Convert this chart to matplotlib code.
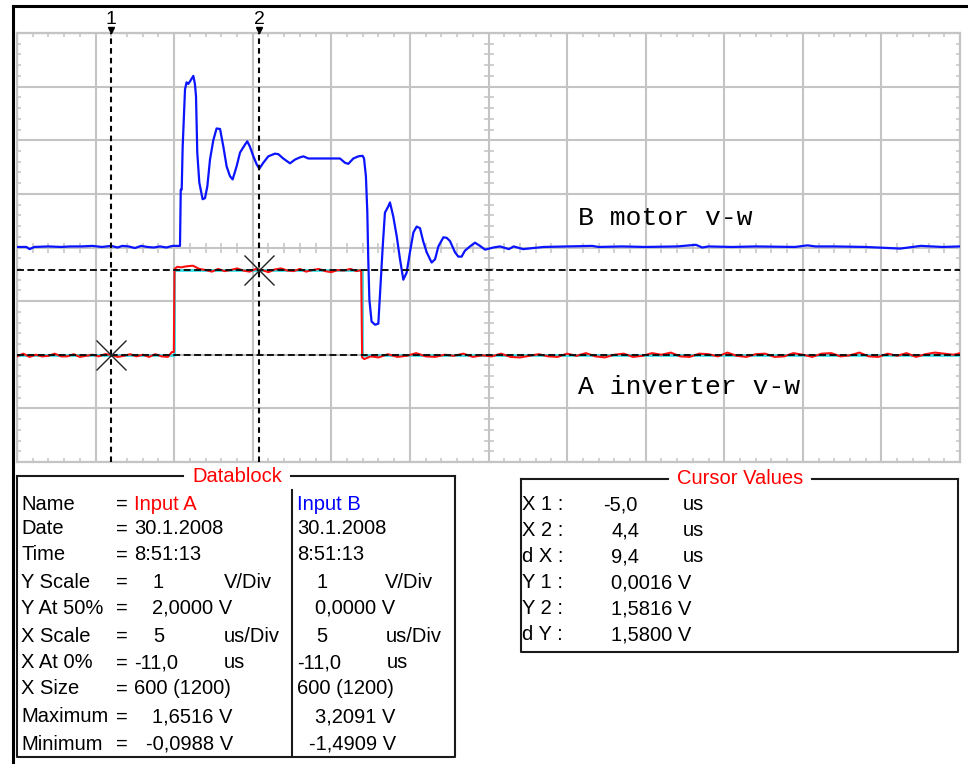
import numpy as np
import matplotlib
matplotlib.use("Agg")
import matplotlib.pyplot as plt
from matplotlib.lines import Line2D

plt.rcParams['lines.scale_dashes'] = False

# ---------------- data ----------------
# Channel B (motor v-w), volts vs time (us)
blue_t = [-11.0, -10.4, -10.2, -9.9, -9.0, -8.2, -7.6, -6.9, -6.2, -5.6, -5.0, -4.6, -4.3,
          -3.9, -3.5, -3.1, -2.7, -2.3, -1.9, -1.5, -1.1, -0.74, -0.63, -0.58, -0.52, -0.46,
          -0.31, -0.21, -0.10, 0.01, 0.22, 0.32, 0.39, 0.47, 0.60, 0.81, 0.96, 1.11, 1.28,
          1.49, 1.70, 1.92, 2.13, 2.34, 2.55, 2.72, 2.97, 3.19, 3.51, 3.65, 3.82, 4.04, 4.25,
          4.42, 4.67, 4.99, 5.41, 5.63, 5.94, 6.37, 6.69, 7.00, 7.22, 7.54, 8.49, 9.55, 9.87,
          10.08, 10.40, 10.72, 10.99, 11.08, 11.20, 11.29, 11.35, 11.42, 11.56, 11.78, 11.99,
          12.10, 12.27, 12.41, 12.63, 12.73, 12.94, 13.16, 13.37, 13.58, 13.79, 14.00, 14.22,
          14.43, 14.64, 14.85, 15.07, 15.38, 15.60, 15.81, 16.13, 16.34, 16.55, 16.87, 17.08,
          17.29, 17.50, 17.82, 18.14, 18.46, 18.78, 19.31, 19.73, 20.3, 20.6, 21.2, 22.5,
          24.0, 25.6, 26.0, 27.5, 29.0, 31.0, 32.2, 32.6, 33.0, 34.5, 36.0, 38.5, 39.3,
          39.8, 41.0, 43.0, 45.2, 46.5, 47.9, 49.0]
blue_v = [0.01, 0.01, -0.03, 0.01, 0.02, 0.01, 0.02, 0.02, 0.03, 0.01, 0.03, 0.0, 0.03,
          0.02, -0.01, 0.03, 0.01, 0.0, 0.02, 0.0, 0.03, 0.03, 0.03, 1.08, 1.08, 1.87,
          2.95, 3.08, 3.05, 3.10, 3.20, 3.05, 2.82, 1.77, 1.21, 0.90, 0.92, 1.14, 1.64,
          2.00, 2.22, 2.21, 1.88, 1.51, 1.33, 1.27, 1.51, 1.77, 1.92, 1.98, 1.88, 1.70, 1.55,
          1.47, 1.58, 1.70, 1.75, 1.74, 1.66, 1.57, 1.64, 1.68, 1.70, 1.66, 1.66, 1.66, 1.58,
          1.56, 1.66, 1.70, 1.71, 1.66, 1.33, 0.65, -0.22, -0.97, -1.38, -1.44, -1.42,
          -0.84, 0.02, 0.65, 0.77, 0.84, 0.58, 0.21, -0.22, -0.60, -0.47, -0.09, 0.28,
          0.39, 0.36, 0.11, -0.09, -0.28, -0.22, 0.02, 0.19, 0.18, 0.12, -0.09, -0.17,
          -0.17, -0.06, 0.02, 0.09, 0.03, -0.04, 0.0, 0.02, -0.03, 0.02, -0.03, 0.01,
          0.02, 0.03, 0.01, 0.02, 0.01, 0.02, 0.05, 0.0, 0.02, 0.01, 0.02, 0.01, 0.04,
          0.02, 0.02, 0.01, -0.02, 0.03, 0.01, 0.02]

# Channel A (inverter v-w), volts vs time (us)
red_t = [-11.0, -10.6, -10.2, -9.8, -9.4, -9.0, -8.6, -8.2, -7.8, -7.4, -7.0, -6.6, -6.2,
         -5.8, -5.4, -5.0, -4.6, -4.2, -3.8, -3.4, -3.0, -2.6, -2.2, -1.8, -1.4, -1.15,
         -1.02, -0.98, -0.80, -0.55, -0.2, 0.2, 0.6, 1.0, 1.4, 1.8, 2.2, 2.6, 3.0, 3.4,
         3.8, 4.2, 4.6, 5.0, 5.4, 5.8, 6.2, 6.6, 7.0, 7.4, 7.8, 8.2, 8.6, 9.0, 9.4, 9.8,
         10.2, 10.6, 10.90, 10.96, 11.1, 11.5, 12.0, 12.6, 13.2, 13.8, 14.4, 15.0, 15.6,
         16.2, 16.8, 17.4, 18.0, 18.6, 19.2, 19.8, 20.4, 21.0, 21.6, 22.2, 22.8, 23.4,
         24.0, 24.6, 25.2, 25.8, 26.4, 27.0, 27.6, 28.2, 28.8, 29.4, 30.0, 30.6, 31.2,
         31.8, 32.4, 33.0, 33.6, 34.2, 34.8, 35.4, 36.0, 36.6, 37.2, 37.8, 38.4, 39.0,
         39.6, 40.2, 40.8, 41.4, 42.0, 42.6, 43.2, 43.8, 44.4, 45.0, 45.6, 46.2, 46.8,
         47.4, 48.0, 48.6, 49.0]
red_v = [-0.03, 0.02, -0.04, 0.0, -0.03, -0.02, 0.02, -0.03, -0.03, 0.01, -0.04, -0.02,
         0.0, -0.03, 0.01, 0.0, -0.04, -0.02, 0.01, -0.03, 0.0, -0.04, 0.01, -0.03, -0.04,
         0.05, 0.05, 1.60, 1.64, 1.63, 1.65, 1.66, 1.60, 1.58, 1.55, 1.60, 1.56, 1.58,
         1.61, 1.57, 1.55, 1.60, 1.58, 1.54, 1.59, 1.61, 1.57, 1.56, 1.60, 1.55, 1.58,
         1.60, 1.56, 1.54, 1.58, 1.57, 1.60, 1.56, 1.58, -0.05, -0.08, -0.03, -0.05,
         0.01, -0.04, -0.02, 0.03, -0.03, -0.04, 0.0, -0.02, 0.02, -0.04, -0.01, -0.03,
         0.02, -0.04, -0.05, -0.02, 0.01, -0.03, -0.04, 0.02, -0.02, 0.03, -0.03, -0.05,
         0.0, 0.02, -0.04, -0.02, 0.03, 0.0, 0.04, -0.03, -0.04, 0.02, 0.01, -0.03,
         0.04, -0.02, -0.04, 0.01, 0.02, -0.04, -0.03, 0.03, 0.0, -0.04, 0.02, 0.03,
         -0.03, -0.01, 0.04, -0.03, -0.04, 0.02, -0.02, 0.03, -0.04, 0.01, 0.04, 0.02,
         0.0, 0.03]

# Reference (cyan) trace of channel A
ref_t = [-11.0, -1.0, -1.0, 10.93, 10.93, 49.0]
ref_v = [0.0, 0.0, 1.58, 1.58, 0.0, 0.0]

y_at_50 = {'A': 2.0, 'B': 0.0}     # V at screen centre
x_at_0 = -11.0                     # us at left edge
x_scale = 5                        # us/div
y_scale = 1                        # V/div
cursor_x = [-5.0, 4.4]
cursor_yA = [0.0016, 1.5816]
cursor_names = ['1', '2']

trace_labels = ['B motor v-w', 'A inverter v-w']

db_rows = ['Name', 'Date', 'Time', 'Y Scale', 'Y At 50%', 'X Scale', 'X At 0%', 'X Size',
           'Maximum', 'Minimum']
cv_labels = ['X 1 :', 'X 2 :', 'd X :', 'Y 1 :', 'Y 2 :', 'd Y :']
cv_values = ['-5,0', '4,4', '9,4', '0,0016 V', '1,5816 V', '1,5800 V']
cv_units = ['us', 'us', 'us', '', '', '']

# ---------------- figure ----------------
W, H = 968, 764
def fx(x): return x / W
def fy(y): return 1 - y / H

fig = plt.figure(figsize=(W / 100, H / 100), dpi=100)
fig.patch.set_facecolor('white')
ax = fig.add_axes([fx(17), fy(462), 943 / W, 429 / H])
ax.set_facecolor('white')

x_min, x_max = x_at_0, x_at_0 + 12 * x_scale
ax.set_xlim(x_min, x_max)
ax.set_ylim(-4 * y_scale, 4 * y_scale)
gcol = '#c4c4c4'
ax.set_xticks(np.arange(x_min, x_max + 0.1, x_scale))
ax.set_yticks(np.arange(-4, 4.1, 1))
ax.set_xticks(np.arange(x_min, x_max + 0.01, 1), minor=True)
ax.set_yticks(np.arange(-4, 4.01, 0.2), minor=True)
ax.grid(True, which='major', color=gcol, lw=1.5)
ax.tick_params(which='major', length=0, labelbottom=False, labelleft=False)
ax.tick_params(which='minor', direction='in', length=3, width=1.1, color=gcol,
               top=True, right=True, bottom=True, left=True)
for s in ax.spines.values():
    s.set_color(gcol)
    s.set_linewidth(1.6)

# ticks on centre lines
xc = (x_min + x_max) / 2
mx = np.arange(x_min, x_max + 0.01, 1)
my = np.arange(-4, 4.01, 0.2)
ax.plot(mx, np.zeros_like(mx), ls='none', marker='|', ms=7, mew=1.1, color=gcol, zorder=1)
ax.plot(np.full_like(my, xc), my, ls='none', marker='_', ms=7, mew=1.1, color=gcol, zorder=1)

# traces
ax.plot(ref_t, np.array(ref_v) - y_at_50['A'], color='#33e0e8', lw=2.0, zorder=3)
ax.plot(red_t, np.array(red_v) - y_at_50['A'], color='#ff1010', lw=1.5, zorder=4)
ax.plot(blue_t, np.array(blue_v) - y_at_50['B'], color='#0a14ff', lw=1.6, zorder=4)

# cursors
for cx, name in zip(cursor_x, cursor_names):
    ax.axvline(cx, color='black', lw=1.5, dashes=(4, 3), zorder=5)
    ax.plot([cx], [4.06], marker='v', ms=4, color='black', clip_on=False, zorder=6)
    ax.annotate(name, (cx, 4.0), xytext=(0, 10), textcoords='offset points',
                ha='center', va='center', fontsize=14, family='Liberation Sans')
for cy in cursor_yA:
    ax.axhline(cy - y_at_50['A'], color='#111111', lw=1.4, dashes=(5, 2.5), zorder=5)
ax.plot(cursor_x, np.array(cursor_yA) - y_at_50['A'], ls='none', marker='x', ms=21,
        mew=1.0, color='#222222', zorder=6)

# trace labels (Courier-like)
fig.text(fx(578), fy(218), trace_labels[0], fontsize=19, family='Liberation Mono',
         va='center', ha='left')
fig.text(fx(578), fy(387), trace_labels[1], fontsize=19, family='Liberation Mono',
         va='center', ha='left')

# outer frame (top and left only)
fig.add_artist(Line2D([fx(13), fx(968)], [fy(6), fy(6)], color='black', lw=2.2))
fig.add_artist(Line2D([fx(13), fx(13)], [fy(6), fy(764)], color='black', lw=2.2))

FS = 14.5
FAM = 'Liberation Sans'

def box(x0, y0, x1, y1, gap0, gap1):
    kw = dict(color='#1a1a1a', lw=1.5)
    fig.add_artist(Line2D([fx(x0), fx(gap0)], [fy(y0)] * 2, **kw))
    fig.add_artist(Line2D([fx(gap1), fx(x1)], [fy(y0)] * 2, **kw))
    fig.add_artist(Line2D([fx(x1), fx(x1), fx(x0), fx(x0)],
                          [fy(y0), fy(y1), fy(y1), fy(y0)], **kw))

def t(x, y, s, color='black', ha='left'):
    fig.text(fx(x), fy(y), s, fontsize=FS, family=FAM, color=color, va='center', ha=ha)

# Datablock
box(17, 476, 455, 757, 183, 291)
t(237, 477, 'Datablock', color='#ff0000', ha='center')
fig.add_artist(Line2D([fx(292), fx(292)], [fy(490), fy(755)], color='#1a1a1a', lw=1.5))
row_y = [504, 529, 555, 582, 608, 636, 663, 689, 717, 744]
for lab, yy in zip(db_rows, row_y):
    t(21, yy, lab)
    t(116, yy, '=')
# channel A column
t(134, row_y[0], 'Input A', color='#ff0000')
t(134, row_y[1], '30.1.2008')
t(134, row_y[2], '8:51:13')
t(153, row_y[3], '1'); t(224, row_y[3], 'V/Div')
t(152, row_y[4], '2,0000 V')
t(153, row_y[5], '5'); t(224, row_y[5], 'us/Div')
t(134, row_y[6], '-11,0'); t(224, row_y[6], 'us')
t(134, row_y[7], '600 (1200)')
t(152, row_y[8], '1,6516 V')
t(146, row_y[9], '-0,0988 V')
# channel B column
t(297, row_y[0], 'Input B', color='#0000ff')
t(297, row_y[1], '30.1.2008')
t(297, row_y[2], '8:51:13')
t(316, row_y[3], '1'); t(385, row_y[3], 'V/Div')
t(315, row_y[4], '0,0000 V')
t(316, row_y[5], '5'); t(386, row_y[5], 'us/Div')
t(297, row_y[6], '-11,0'); t(387, row_y[6], 'us')
t(297, row_y[7], '600 (1200)')
t(315, row_y[8], '3,2091 V')
t(309, row_y[9], '-1,4909 V')

# Cursor values
box(521, 479, 958, 652, 668, 812)
t(740, 479, 'Cursor Values', color='#ff0000', ha='center')
cv_y = [505, 531, 557, 583, 609, 635]
for lab, val, unit, yy in zip(cv_labels, cv_values, cv_units, cv_y):
    t(522, yy, lab)
    t(603 if val.startswith('-') else 611, yy, val)
    if unit:
        t(683, yy, unit)

fig.savefig('out.png', dpi=100, facecolor='white')
